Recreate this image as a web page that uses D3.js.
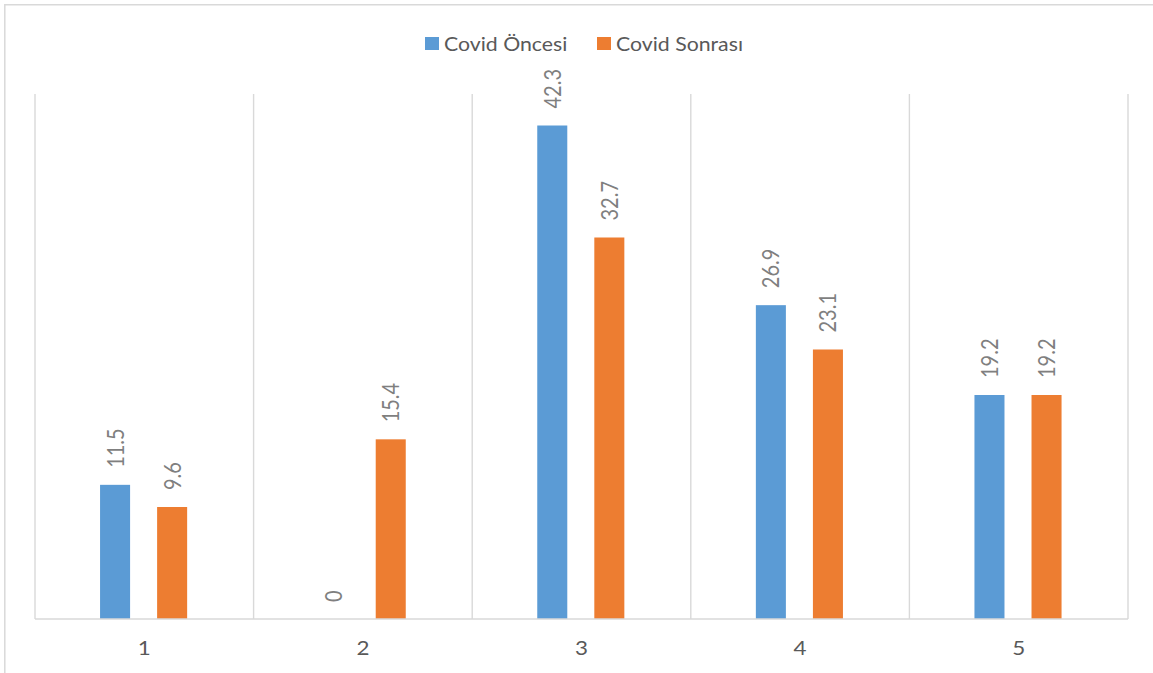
<!DOCTYPE html>
<html><head><meta charset="utf-8">
<script src="https://cdn.jsdelivr.net/npm/d3@7"></script>
<style>
body{margin:0;background:#fff;overflow:hidden}
text{font-family:Lato,"Open Sans",sans-serif}
</style>
</head><body>
<svg id="chart" width="1153" height="673"></svg>
<script>
const categories = ["1", "2", "3", "4", "5"];
const seriesNames = ["Covid Öncesi", "Covid Sonrası"];
const covidOncesi = [11.5, 0, 42.3, 26.9, 19.2];
const covidSonrasi = [9.6, 15.4, 32.7, 23.1, 19.2];
const seriesColors = ["#5B9BD5", "#ED7D31"];

const series = [covidOncesi, covidSonrasi];
const svg = d3.select("#chart");
const SX = 1.15;

// chart frame (cropped)
svg.append("path").attr("d", "M4.8,673 V4.8 H1153")
  .attr("fill", "none").attr("stroke", "#d9d9d9").attr("stroke-width", 1.5);

const x = d3.scaleBand().domain(categories).range([35, 1128]).padding(0);
const xs = d3.scaleBand().domain(d3.range(series.length))
  .range([x.bandwidth() * 0.2976, x.bandwidth() * 0.696]).paddingInner(0.4737);
const y = d3.scaleLinear().domain([0, 45]).range([619, 94]);

// vertical gridlines
const bounds = categories.map(c => x(c)).concat([x.range()[1]]);
svg.append("g").selectAll("line").data(bounds).join("line")
  .attr("x1", d => d).attr("x2", d => d)
  .attr("y1", y(45)).attr("y2", y(0))
  .attr("stroke", "#d9d9d9").attr("stroke-width", 1.4);

// bars
const rows = [];
categories.forEach((c, i) => series.forEach((s, j) => rows.push({c, j, v: s[i]})));
svg.append("g").selectAll("rect").data(rows).join("rect")
  .attr("x", d => x(d.c) + xs(d.j))
  .attr("width", xs.bandwidth())
  .attr("y", d => y(d.v))
  .attr("height", d => y(0) - y(d.v))
  .attr("fill", d => seriesColors[d.j]);

// baseline
svg.append("line").attr("x1", x.range()[0]).attr("x2", x.range()[1])
  .attr("y1", y(0)).attr("y2", y(0))
  .attr("stroke", "#d9d9d9").attr("stroke-width", 1.6);

// data labels
svg.append("g").selectAll("text").data(rows).join("text")
  .attr("transform", d => `translate(${x(d.c) + xs(d.j) + xs.bandwidth() / 2},${y(d.v) - 17}) scale(${SX},1) rotate(-90)`)
  .attr("text-anchor", "start")
  .attr("dominant-baseline", "central")
  .attr("font-size", 20)
  .attr("fill", "#7f7f7f")
  .text(d => d3.format("")(d.v));

// x axis
const ax = svg.append("g").attr("transform", `translate(0,${y(0)})`)
  .call(d3.axisBottom(x).tickSize(0).tickPadding(0));
ax.select(".domain").remove();
ax.selectAll("text")
  .attr("y", null).attr("dy", null)
  .attr("transform", `translate(0,28) scale(${SX},1)`)
  .attr("dominant-baseline", "central")
  .attr("font-size", 19.5)
  .attr("font-family", 'Lato,"Open Sans",sans-serif')
  .attr("fill", "#595959");

// legend
const legendX = [425, 597];
const lg = svg.append("g").selectAll("g").data(seriesNames).join("g")
  .attr("transform", (d, i) => `translate(${legendX[i]},0)`);
lg.append("rect").attr("x", 0).attr("y", 37).attr("width", 14).attr("height", 13)
  .attr("fill", (d, i) => seriesColors[i]);
lg.append("text").attr("transform", `translate(19,50.5) scale(${SX},1)`)
  .attr("font-size", 18.5).attr("fill", "#595959").text(d => d);
</script>
</body></html>
